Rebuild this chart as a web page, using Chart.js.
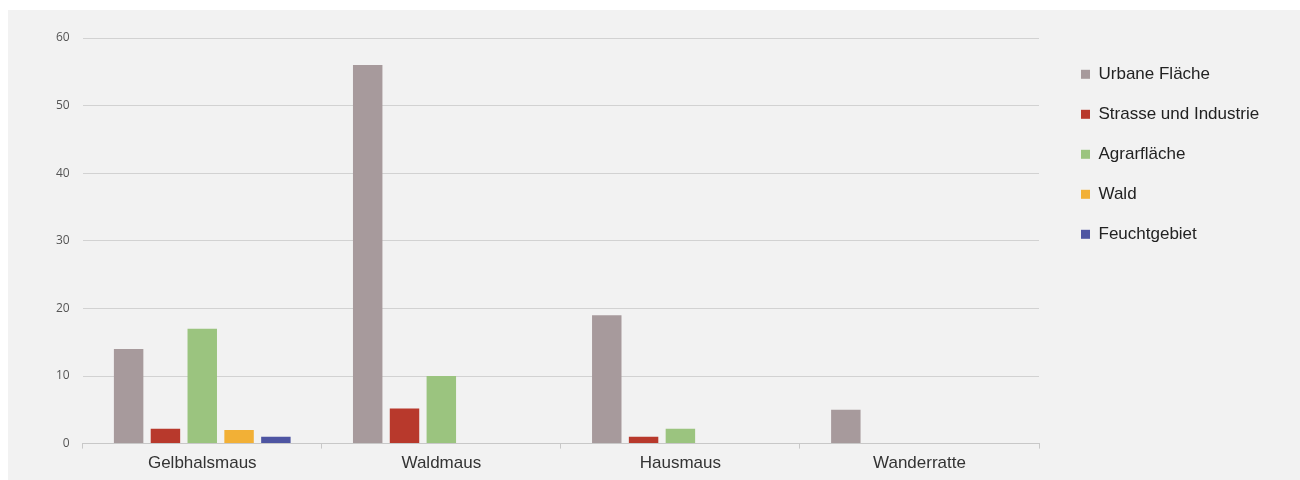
<!DOCTYPE html>
<html>
<head>
<meta charset="utf-8">
<script src="https://cdn.jsdelivr.net/npm/chart.js@4"></script>
<style>
    html, body { margin: 0; padding: 0; background: #ffffff; }
    #wrap { position: absolute; left: 8px; top: 10px; width: 1292px; height: 470px; background: #f2f2f2; }
</style>
</head>
<body>
<div id="wrap"><canvas id="habitatChart" width="1292" height="470"></canvas></div>
<script>
// Arten und Lebensräume
const species = ["Gelbhalsmaus", "Waldmaus", "Hausmaus", "Wanderratte"];
const urban = [14, 56, 19, 5];
const strasse = [2.2, 5.2, 1, 0];
const agrar = [17, 10, 2.2, 0];
const wald = [2, 0, 0, 0];
const feucht = [1, 0, 0, 0];
const yTicks = [0, 10, 20, 30, 40, 50, 60];

document.addEventListener("DOMContentLoaded", function () {
    Chart.defaults.font.family = "'Liberation Sans', Arial, sans-serif";

    const bar = (label, data, color) => ({
        label: label,
        data: data,
        backgroundColor: color,
        categoryPercentage: 0.77,
        barPercentage: 0.8,
        yAxisID: "y"
    });

    new Chart(document.getElementById("habitatChart"), {
        type: "bar",
        data: {
            labels: species,
            datasets: [
                bar("Urbane Fläche", urban, "#a79a9c"),
                bar("Strasse und Industrie", strasse, "#b8392c"),
                bar("Agrarfläche", agrar, "#9bc47f"),
                bar("Wald", wald, "#f2b036"),
                bar("Feuchtgebiet", feucht, "#4e55a2")
            ]
        },
        options: {
            responsive: false,
            animation: false,
            layout: { padding: { top: 28, right: 39, left: 35, bottom: 1 } },
            plugins: {
                tooltip: { enabled: false },
                legend: {
                    position: "right",
                    align: "start",
                    title: { display: true, text: " ", font: { size: 4 }, padding: 0 },
                    labels: {
                        boxWidth: 9,
                        boxHeight: 9,
                        padding: 23,
                        color: "#222222",
                        font: { size: 17 }
                    }
                }
            },
            scales: {
                x: {
                    grid: { display: true, drawOnChartArea: false, offset: true, tickLength: 5, color: "#c8c8c8" },
                    border: { color: "#c8c8c8" },
                    ticks: { color: "#333333", font: { size: 17 }, padding: 5 }
                },
                y: {
                    min: 0,
                    max: 60,
                    afterBuildTicks: (axis) => { axis.ticks = yTicks.map(v => ({ value: v })); },
                    grid: { color: "#d2d2d2", drawTicks: false },
                    border: { display: false },
                    ticks: { color: "#555555", font: { family: "'Open Sans', sans-serif", size: 12 }, padding: 13 }
                },
                gap: {
                    position: "right",
                    grid: { display: false },
                    border: { display: false },
                    ticks: { display: false },
                    afterFit: (axis) => { axis.width = 19; }
                }
            }
        }
    });
});
</script>
</body>
</html>
